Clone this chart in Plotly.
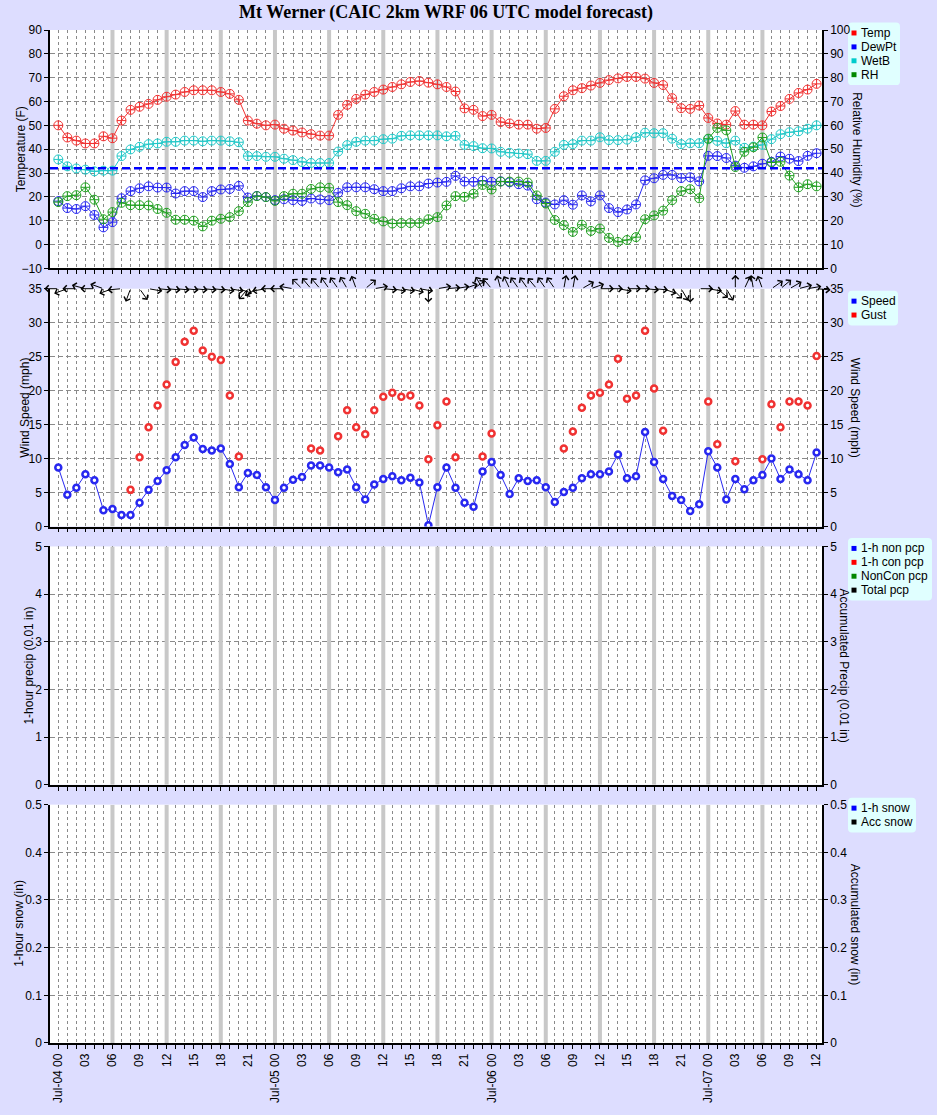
import math
import plotly.graph_objects as go

# ---------------- data ----------------
hours = list(range(85))  # forecast hours from Jul-04 00 UTC
day_names = {0: "Jul-04", 24: "Jul-05", 48: "Jul-06", 72: "Jul-07"}

temp = [50, 44.9, 43.6, 42.4, 42.4, 45.4, 44.6, 52, 56.5, 57.8,
        59, 60.7, 62, 62.9, 64, 64.7, 64.7, 64.7, 64, 63.2,
        60.7, 52, 50.7, 50, 50.3, 48.6, 47.8, 47, 46.3, 45.7,
        45.7, 54.4, 58.6, 61.1, 62.9, 64, 65, 66.1, 67.2, 68.2,
        68.6, 67.9, 67.2, 66.1, 64.2, 57.1, 56.5, 53.9, 54.4, 51.4,
        50.8, 50.3, 50.3, 48.6, 48.9, 56.9, 62.2, 64.7, 65.6, 66.7,
        67.8, 69, 69.7, 70.3, 70.3, 69.6, 67.8, 66.9, 61.4, 57.2,
        56.9, 58.3, 53.1, 50.8, 50.3, 56, 50.3, 50.3, 50, 55.8,
        58.1, 61.1, 63.6, 65, 67.4]

dewpt = [18.2, 15.3, 14.9, 16.1, 12.4, 7.2, 9.4, 19.4, 22.4, 23.6,
         24.4, 23.9, 23.9, 21.4, 22.4, 22.4, 19.9, 22.4, 23.1, 23.3,
         24.6, 19.7, 20.4, 19.9, 18.6, 19, 18.6, 18.3, 19.3, 18.9,
         18.6, 21.7, 24, 24, 24, 23.2, 22.4, 22.4, 23.6, 24.4,
         24.4, 25.6, 26, 26.3, 28.8, 26.4, 26.3, 26.8, 26.3, 26.5,
         26.1, 25.3, 24.7, 19, 17.6, 16.8, 18.6, 16.7, 20.6, 18.1,
         20.6, 15.3, 13.6, 14.7, 16.8, 26.9, 27.8, 29.2, 29.2, 27.9,
         28.2, 26.5, 37.2, 37.1, 36.3, 33.1, 32.2, 32.8, 33.9, 34.7,
         36.9, 36, 35, 37.2, 38.3]

wetb = [35.7, 32.8, 31.9, 31.4, 30.7, 31, 31, 37.1, 39.9, 41,
        42.1, 42.4, 43.1, 43.1, 43.6, 43.6, 43.3, 43.6, 43.6, 43.3,
        42.9, 37.1, 37.1, 36.8, 36.8, 36, 35.4, 34.6, 34.2, 34.2,
        34.2, 39, 41.7, 43.1, 43.6, 43.6, 44.2, 44.4, 45.6, 45.8,
        45.8, 45.8, 45.8, 45.4, 45.6, 41.8, 41.3, 40.4, 40.3, 38.9,
        38.5, 38.2, 37.9, 35.1, 35.1, 38.9, 41.8, 42.1, 43.6, 43.6,
        45, 43.8, 43.8, 44, 45, 46.9, 46.7, 46.7, 44.4, 42.1,
        42.5, 42.5, 44.2, 43.5, 42.5, 43.6, 40.6, 41.1, 41.8, 44.2,
        46.3, 47.1, 47.5, 48.6, 50]

rh = [27.8, 30.3, 30.7, 34, 28.8, 20.6, 23.6, 27.5, 26.5, 26.5,
      26.4, 24.9, 23.3, 20.4, 20.4, 20, 17.6, 20, 20.8, 21.5,
      24, 27.8, 30.3, 29.9, 28.3, 30.3, 31.3, 31.3, 33.3, 34,
      33.8, 27.8, 26.5, 24, 22.9, 20.8, 19.7, 18.8, 19, 19,
      19, 20.6, 21.5, 26.4, 30.3, 30, 31.3, 35, 33.1, 36.4,
      36.4, 36.4, 36, 30.6, 27.2, 20.3, 18.1, 15.3, 18.3, 15.7,
      16.7, 12.8, 11.1, 11.9, 13.1, 20.6, 22.2, 24.2, 28.6, 32.4,
      33.2, 29.4, 54.4, 58.9, 57.9, 42.5, 48.9, 50.8, 54.9, 44.4,
      44.7, 38.9, 34, 35.3, 34.4]

freezing_f = 32

speed = [8.7, 4.7, 5.7, 7.7, 6.8, 2.4, 2.6, 1.7, 1.7, 3.5,
         5.4, 6.7, 8.3, 10.2, 12.0, 13.1, 11.4, 11.2, 11.5, 9.2,
         5.8, 7.9, 7.6, 5.8, 3.9, 5.7, 6.9, 7.3, 9.0, 9.0,
         8.7, 8.0, 8.4, 5.8, 4.0, 6.2, 7.0, 7.4, 6.8, 7.2,
         6.5, 0.2, 5.8, 8.7, 5.7, 3.5, 2.9, 8.1, 9.5, 7.6,
         4.8, 7.1, 6.7, 6.8, 5.8, 3.6, 5.1, 5.7, 7.1, 7.7,
         7.7, 8.1, 10.6, 7.1, 7.4, 13.9, 9.5, 7.0, 4.5, 3.9,
         2.3, 3.3, 11.1, 8.7, 4.0, 7.0, 5.5, 6.8, 7.6, 10.0,
         7.0, 8.4, 7.7, 6.8, 10.9]

N = None
gust = [N, N, N, N, N, N, N, N, 5.4, 10.2,
        14.6, 17.8, 20.9, 24.2, 27.2, 28.8, 25.9, 25.0, 24.5, 19.3,
        10.3, N, N, N, N, N, N, N, 11.5, 11.2,
        N, 13.3, 17.1, 14.6, 13.6, 17.1, 19.1, 19.7, 19.1, 19.3,
        17.8, 9.9, 14.9, 18.4, 10.2, N, N, 10.3, 13.7, N,
        N, N, N, N, N, N, 11.5, 14.0, 17.5, 19.3,
        19.7, 20.9, 24.7, 18.8, 19.3, 28.8, 20.3, 14.1, N, N,
        N, N, 18.4, 12.1, N, 9.6, N, N, 9.9, 18.0,
        14.6, 18.4, 18.4, 17.8, 25.1]

# wind direction (degrees, direction the wind blows FROM)
wind_dir = [90, 70, 90, 105, 90, 110, 70, 85, 20, 325,
            280, 275, 275, 275, 275, 275, 275, 275, 280, 280,
            290, 40, 60, 80, 90, 90, 100, 135, 140, 140,
            145, 145, 150, 160, 230, 260, 275, 280, 280, 285,
            280, 0, 260, 265, 260, 250, 235, 150, 140, 165,
            155, 145, 145, 140, 145, 145, 190, 190, 240, 250,
            270, 270, 280, 270, 270, 275, 275, 290, 315, 330,
            0, 270, 280, 310, 330, 180, 205, 170, 160, 235,
            230, 240, 255, 260, 275]

tick_text = [(f"{day_names[h]} {h % 24:02d}" if h in day_names else f"{h % 24:02d}")
             if h % 3 == 0 else "" for h in hours]

legend_items = [
    [("Temp", "#FF0000"), ("DewPt", "#0000FF"), ("WetB", "#00CCCC"), ("RH", "#008800")],
    [("Speed", "#0000FF"), ("Gust", "#FF0000")],
    [("1-h non pcp", "#0000FF"), ("1-h con pcp", "#FF0000"), ("NonCon pcp", "#008800"), ("Total pcp", "#000000")],
    [("1-h snow", "#0000FF"), ("Acc snow", "#000000")],
]

# ---------------- geometry ----------------
W, H = 937, 1115
ML, MR, MT, MB = 50, 115, 30, 65
PW, PH = W - ML - MR, H - MT - MB
XR = [-0.92, 84.6]


def pxx(px):
    return (px - ML) / PW


def pxy(py):
    return (H - MB - py) / PH


panels_px = [(30, 270), (290.5, 530), (550, 790), (810, 1050)]
domains = [[pxy(b), pxy(t)] for t, b in panels_px]

FONT = dict(family="Liberation Sans, Arial, sans-serif", size=12, color="black")
GRID = "#8a8a8a"
BAR = "#C8C8C8"
RED, BLUE, CYAN, GREEN = "#F03232", "#2828F0", "#22C8C8", "#22A022"

y_specs = [  # (left range, dtick, right range)
    ([-10, 90], 10, [0, 100]),
    ([0, 35], 5, [0, 35]),
    ([0, 5], 1, [0, 5]),
    ([0, 0.5], 0.1, [0, 0.5]),
]

fig = go.Figure()

# thick grey 6-hourly separators (drawn first, under the data, above the grid)
six_hourly = [h for h in hours if h % 6 == 0 and 0 < h < hours[-1]]
for i in range(4):
    xid = "x" if i == 0 else f"x{i + 1}"
    ylid = "y" if i == 0 else f"y{2 * i + 1}"
    lo, hi = y_specs[i][0]
    bx, by = [], []
    for h in six_hourly:
        bx += [h, h, None]
        by += [lo, hi, None]
    fig.add_trace(go.Scatter(x=bx, y=by, xaxis=xid, yaxis=ylid, mode="lines",
                             line=dict(color=BAR, width=4), showlegend=False,
                             hoverinfo="skip", cliponaxis=True))

# panel 1
for name, vals, col, ya in [("WetB", wetb, CYAN, "y"), ("DewPt", dewpt, BLUE, "y"),
                            ("Temp", temp, RED, "y"), ("RH", rh, GREEN, "y2")]:
    fig.add_trace(go.Scatter(x=hours, y=vals, name=name, xaxis="x", yaxis=ya,
                             mode="lines+markers", showlegend=False,
                             line=dict(color=col, width=1),
                             marker=dict(symbol="circle-cross-open", size=9,
                                         color=col, line=dict(width=1, color=col))))
# panel 2
fig.add_trace(go.Scatter(x=hours, y=speed, name="Speed", xaxis="x2", yaxis="y3",
                         mode="lines+markers", showlegend=False,
                         line=dict(color=BLUE, width=1),
                         marker=dict(symbol="circle", size=6, color="white",
                                     line=dict(width=2.5, color=BLUE))))
fig.add_trace(go.Scatter(x=hours, y=gust, name="Gust", xaxis="x2", yaxis="y3",
                         mode="markers", showlegend=False,
                         marker=dict(symbol="circle", size=6, color="white",
                                     line=dict(width=2.5, color=RED))))
# empty traces so that every axis is drawn
for xa, ya in [("x2", "y4"), ("x3", "y6"), ("x4", "y8")]:
    fig.add_trace(go.Scatter(x=[None], y=[None], xaxis=xa, yaxis=ya,
                             showlegend=False, hoverinfo="skip"))

layout = dict(
    width=W, height=H,
    margin=dict(l=ML, r=MR, t=MT, b=MB, pad=0),
    paper_bgcolor="#DDDDFF", plot_bgcolor="white",
    font=FONT, showlegend=False,
    title=dict(text="<b>Mt Werner (CAIC 2km WRF 06 UTC model forecast)</b>",
               font=dict(family="Liberation Serif, Times New Roman, serif", size=18, color="black"),
               x=446 / W, xref="container", xanchor="center",
               y=1 - 12 / H, yref="container", yanchor="middle"),
)

for i in range(4):
    xid = "x" if i == 0 else f"x{i + 1}"
    yl = 2 * i + 1
    yr = 2 * i + 2
    ylid = "y" if yl == 1 else f"y{yl}"
    xkey = "xaxis" if i == 0 else f"xaxis{i + 1}"
    layout[xkey] = dict(
        domain=[0, 1], anchor=ylid, range=XR, matches=None if i == 0 else "x",
        tickmode="array", tickvals=hours, ticktext=tick_text,
        showticklabels=(i == 3), tickangle=-90, tickfont=FONT,
        ticks="outside", ticklen=4, tickcolor="black", tickwidth=1,
        showgrid=True, gridcolor=GRID, griddash="3px,3px", gridwidth=1,
        showline=True, linecolor="black", linewidth=1.5, zeroline=False,
    )
    lr, dt, rr = y_specs[i]
    layout["yaxis" if yl == 1 else f"yaxis{yl}"] = dict(
        domain=domains[i], anchor=xid, range=lr, tickmode="linear", tick0=0, dtick=dt,
        ticks="outside", ticklen=4, tickcolor="black", tickfont=FONT,
        showgrid=True, gridcolor=GRID, griddash="5px,3px", gridwidth=1,
        showline=True, linecolor="black", linewidth=1.5, zeroline=False,
    )
    layout[f"yaxis{yr}"] = dict(
        domain=domains[i], anchor=xid, overlaying=ylid, side="right", range=rr,
        tickmode="linear", tick0=0, dtick=dt,
        ticks="outside", ticklen=4, tickcolor="black", tickfont=FONT,
        showgrid=False, showline=True, linecolor="black", linewidth=1.5, zeroline=False,
    )

shapes = []
annotations = []

# freezing line
shapes.append(dict(type="line", xref="x domain", yref="y", x0=0, x1=1,
                   y0=freezing_f, y1=freezing_f, layer="above",
                   line=dict(color="#0000FF", width=2.5, dash="8px,4px")))

# wind arrows along the top of the wind panel
px_per_h = PW / (XR[1] - XR[0])
px_per_mph = (panels_px[1][1] - panels_px[1][0]) / 35.0
ARROW_PX = 14
for h, d in zip(hours, wind_dir):
    to = math.radians((d + 180) % 360)
    hx = h + ARROW_PX * math.sin(to) / px_per_h
    hy = 35 + ARROW_PX * math.cos(to) / px_per_mph
    annotations.append(dict(x=hx, y=hy, xref="x2", yref="y3", ax=h, ay=35,
                            axref="x2", ayref="y3", text="", showarrow=True,
                            arrowhead=4, arrowsize=1.3, arrowwidth=1, arrowcolor="black",
                            standoff=0, startstandoff=0))

# axis titles
left_titles = [("Temperature (F)", 21), ("Wind Speed (mph)", 25),
               ("1-hour precip (0.01 in)", 29), ("1-hour snow (in)", 19)]
right_titles = [("Relative Humidity (%)", 857), ("Wind Speed (mph)", 855),
                ("Accumulated Precip (0.01 in)", 844), ("Accumulated snow (in)", 855)]
for i in range(4):
    t, b = panels_px[i]
    yc = pxy((t + b) / 2)
    annotations.append(dict(text=left_titles[i][0], xref="paper", yref="paper",
                            x=pxx(left_titles[i][1]), y=yc, textangle=-90,
                            showarrow=False, xanchor="center", yanchor="middle", font=FONT))
    annotations.append(dict(text=right_titles[i][0], xref="paper", yref="paper",
                            x=pxx(right_titles[i][1]), y=yc, textangle=90,
                            showarrow=False, xanchor="center", yanchor="middle", font=FONT))

# legends (boxes with coloured squares)
legend_boxes = [(848, 22.5, 900), (848, 292.5, 898), (848, 541.5, 932), (848, 803, 916)]
ITEM = 14
for (x0, y0, x1), items in zip(legend_boxes, legend_items):
    y1 = y0 + ITEM * len(items) + 7
    r = 4
    X0, X1 = pxx(x0), pxx(x1)
    Y0, Y1 = pxy(y0), pxy(y1)
    rx, ry = r / PW, r / PH
    path = (f"M{X0 + rx},{Y0} L{X1 - rx},{Y0} Q{X1},{Y0} {X1},{Y0 - ry} "
            f"L{X1},{Y1 + ry} Q{X1},{Y1} {X1 - rx},{Y1} L{X0 + rx},{Y1} "
            f"Q{X0},{Y1} {X0},{Y1 + ry} L{X0},{Y0 - ry} Q{X0},{Y0} {X0 + rx},{Y0} Z")
    shapes.append(dict(type="path", xref="paper", yref="paper", path=path,
                       fillcolor="#E0FFFF", line=dict(width=0), layer="below"))
    for k, (lab, col) in enumerate(items):
        yc = y0 + 10.5 + ITEM * k
        shapes.append(dict(type="rect", xref="paper", yref="paper",
                           x0=pxx(x0 + 3.5), x1=pxx(x0 + 8.5),
                           y0=pxy(yc - 2.5), y1=pxy(yc + 2.5),
                           fillcolor=col, line=dict(width=0), layer="above"))
        annotations.append(dict(text=lab, xref="paper", yref="paper",
                                x=pxx(x0 + 11), y=pxy(yc), showarrow=False,
                                xanchor="left", yanchor="middle", font=FONT))

layout["shapes"] = shapes
layout["annotations"] = annotations
fig.update_layout(**layout)

fig.write_html("out.html")
